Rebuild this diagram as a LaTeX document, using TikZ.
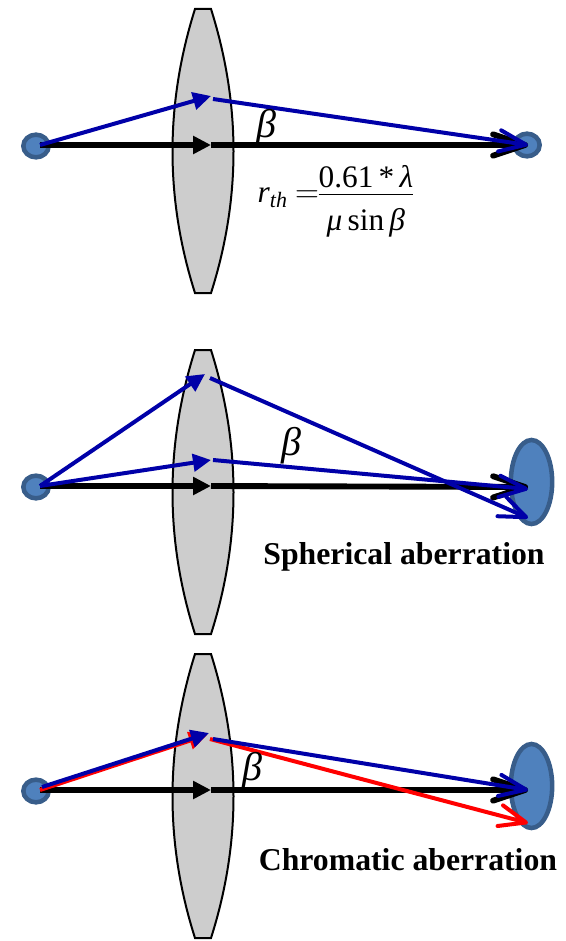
\documentclass[tikz,border=0pt]{standalone}
\usepackage{amsmath}
\usepackage{fontspec}
\setmainfont{Liberation Serif}
\usetikzlibrary{arrows.meta,shapes.geometric}
\definecolor{raybluec}{HTML}{0000A8}
\definecolor{spotfillc}{HTML}{4F81BD}
\definecolor{spotdrawc}{HTML}{385D8A}
\definecolor{lensc}{HTML}{CDCDCD}
\tikzset{
    lens/.style     = {draw, line width=1.5pt, fill=lensc},
    spot/.style     = {ellipse, draw=spotdrawc, fill=spotfillc, line width=3.4pt,
                       inner sep=0pt},
    dot/.style      = {spot, minimum width=19pt, minimum height=17pt},
    blur/.style     = {spot, minimum width=31pt, minimum height=63pt},
    ray in/.style   = {line width=#1, -{Triangle[length=13.5pt, width=13pt]}},
    black in/.style = {ray in=4.4pt},
    black out/.style= {line width=4.4pt, -{Straight Barb[length=24pt, width=16pt, round]}},
    blue in/.style  = {ray in=3pt, raybluec},
    blue out/.style = {line width=3pt, raybluec, -{Straight Barb[length=20pt, width=16pt, round]}},
    red in/.style   = {ray in=3pt, red},
    red out/.style  = {line width=3pt, red, -{Straight Barb[length=20pt, width=16pt, round]}},
    angle/.style    = {font=\fontsize{30}{34}\selectfont\itshape},
    caption/.style  = {font=\fontsize{23.8}{28}\selectfont\bfseries},
    formula/.style  = {font=\fontsize{23.5}{28}\selectfont}
}

\begin{document}
\begin{tikzpicture}[x=0.75pt, y=-0.75pt]
\useasboundingbox (0,0) rectangle (565,941);

% Lenses
\foreach \y in {9, 350, 654}
    \draw[lens] (195,\y) .. controls (165,\y+95) and (165,\y+190) .. (195,\y+284)
        -- (211,\y+284) .. controls (241,\y+190) and (241,\y+95) .. (211,\y) -- cycle;

% Ideal lens
\node[dot] (src1) at (36,146) {};
\node[dot] (img1) at (527,145) {};
\coordinate (s1) at (40,145);
\coordinate (axis1) at (211,145);
\coordinate (up1) at (211,96);
\coordinate (upb1) at (213,99);
\coordinate (t1) at (528,145);
\draw[black in] (s1) -- (axis1);
\draw[black out] (axis1) -- (t1);
\draw[blue in] (s1) -- (up1);
\draw[blue out] (upb1) -- (t1);
\node[angle] (beta1) at (266,128) {β};
\node[formula, anchor=west] (rth) at (253,198)
    {$\textit{r}_{\textit{th}}\mkern4mu{=}\mkern-1mu\dfrac{\raisebox{-5pt}[\height][0pt]{\text{0.61}\,{*}\,\textit{λ}}}{\raisebox{-4pt}[\height][\depth]{\textit{μ}\,\text{sin}\,\textit{β}}}$};

% Spherical aberration
\node[dot] (src2) at (36,487) {};
\node[blur] (img2) at (531.5,482) {};
\coordinate (s2) at (40,486);
\coordinate (axis2) at (211,486);
\coordinate (far2) at (205,374);
\coordinate (farb2) at (210,378);
\coordinate (near2) at (211,460);
\coordinate (nearb2) at (213,460);
\coordinate (t2) at (528,487);
\coordinate (tb2) at (528,489);
\coordinate (tc2) at (528,518);
\draw[black in] (s2) -- (axis2);
\draw[black out] (axis2) -- (t2);
\draw[blue in] (s2) -- (far2);
\draw[blue out] (farb2) -- (tc2);
\draw[blue in] (s2) -- (near2);
\draw[blue out] (nearb2) -- (tb2);
\node[angle] (beta2) at (291,446) {β};
\node[caption] (cap2) at (404,557) {Spherical aberration};

% Chromatic aberration
\node[dot] (src3) at (36,791) {};
\node[blur] (img3) at (531.5,786) {};
\coordinate (s3) at (40,790);
\coordinate (axis3) at (211,790);
\coordinate (redup3) at (207,735);
\coordinate (redb3) at (210,739);
\coordinate (blueup3) at (209,733);
\coordinate (blueb3) at (213,739);
\coordinate (t3) at (528,790);
\coordinate (tr3) at (528,823);
\draw[black in] (s3) -- (axis3);
\draw[black out] (axis3) -- (t3);
\draw[red in] (s3) -- (redup3);
\draw[red out] (redb3) -- (tr3);
\draw[blue in] (42,787) -- (blueup3);
\draw[blue out] (blueb3) -- (t3);
\node[angle] (beta3) at (252,771) {β};
\node[caption] (cap3) at (408,860) {Chromatic aberration};

\end{tikzpicture}
\end{document}
